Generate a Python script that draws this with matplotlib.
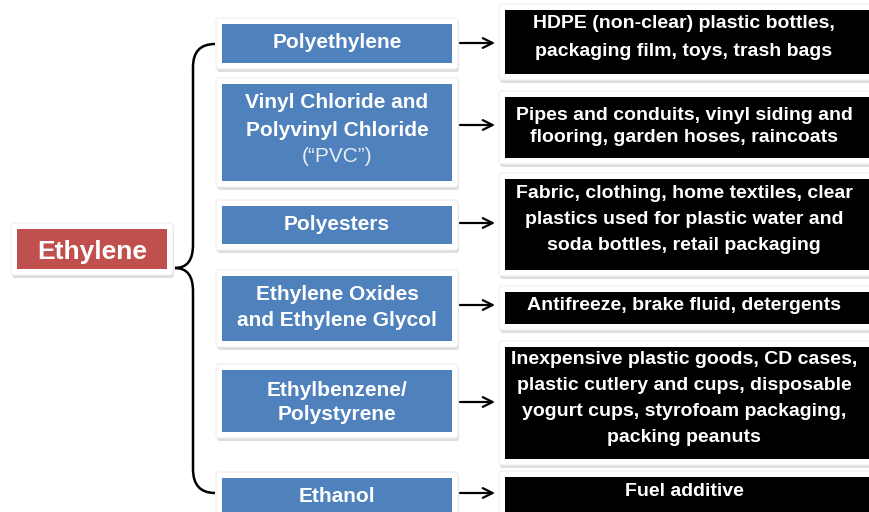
import matplotlib.pyplot as plt
import matplotlib.patches as mpatches
from matplotlib.path import Path

plt.rcParams['font.family'] = ['Liberation Sans', 'DejaVu Sans']

root = "Ethylene"
products = [["Polyethylene"],
            ["Vinyl Chloride and", "Polyvinyl Chloride"],
            ["Polyesters"],
            ["Ethylene Oxides", "and Ethylene Glycol"],
            ["Ethylbenzene/", "Polystyrene"],
            ["Ethanol"]]
product_notes = ["", "(\u201cPVC\u201d)", "", "", "", ""]
uses = [["HDPE (non-clear) plastic bottles,", "packaging film, toys, trash bags"],
        ["Pipes and conduits, vinyl siding and", "flooring, garden hoses, raincoats"],
        ["Fabric, clothing, home textiles, clear",
         "plastics used for plastic water and",
         "soda bottles, retail packaging"],
        ["Antifreeze, brake fluid, detergents"],
        ["Inexpensive plastic goods, CD cases,",
         "plastic cutlery and cups, disposable",
         "yogurt cups, styrofoam packaging,",
         "packing peanuts"],
        ["Fuel additive"]]

# layout in pixels (y down)
blue_y = [(24, 63), (84, 181), (206, 244), (276, 341), (370, 432), (478, 540)]
black_y = [(10, 74), (97, 158), (179, 270), (292, 324), (347, 459), (477, 540)]
blue_text_y = [41, [100, 128, 155], 222, [293, 318], [388, 412], 494]
black_text_y = [[22, 50], [113, 136], [192, 218, 244], [304], [358, 384, 410, 436], [490]]
arrow_y = [43, 125, 223, 305, 402, 493]
dy = 2  # text nudge

BLUE = '#4F81BD'
RED = '#C0504D'

fig = plt.figure(figsize=(8.69, 5.12), dpi=100)
ax = fig.add_axes([0, 0, 1, 1])
ax.set_xlim(0, 869)
ax.set_ylim(512, 0)
ax.axis('off')


def card(x0, x1, y0, y1, pad, color):
    # soft shadow, white card, coloured box
    ax.add_patch(mpatches.FancyBboxPatch((x0 - pad + 1, y0 - pad + 3), x1 - x0 + 2 * pad,
                                         y1 - y0 + 2 * pad, boxstyle='round,pad=0,rounding_size=3',
                                         fc='#c8c8c8', ec='none', alpha=0.6, zorder=1))
    ax.add_patch(mpatches.FancyBboxPatch((x0 - pad, y0 - pad), x1 - x0 + 2 * pad,
                                         y1 - y0 + 2 * pad, boxstyle='round,pad=0,rounding_size=3',
                                         fc='white', ec='#eeeeee', lw=0.8, zorder=2))
    ax.add_patch(mpatches.Rectangle((x0, y0), x1 - x0, y1 - y0, fc=color, ec='none', zorder=3))


# root box
card(17, 167, 229, 269, 6, RED)
ax.text(92, 250 + dy, root, color='white', fontsize=19, fontweight='bold',
        ha='center', va='center', zorder=4)

# brace
verts = [(215, 44), (193, 44), (193, 67),
         (193, 245),
         (193, 268), (175, 268),
         (193, 268), (193, 291),
         (193, 469),
         (193, 493), (215, 493)]
codes = [Path.MOVETO, Path.CURVE3, Path.CURVE3,
         Path.LINETO,
         Path.CURVE3, Path.CURVE3,
         Path.CURVE3, Path.CURVE3,
         Path.LINETO,
         Path.CURVE3, Path.CURVE3]
ax.add_patch(mpatches.PathPatch(Path(verts, codes), fc='none', ec='black', lw=1.8, zorder=4))

for i in range(len(products)):
    y0, y1 = blue_y[i]
    card(222, 452, y0, y1, 6, BLUE)
    ty = blue_text_y[i]
    ty = ty if isinstance(ty, list) else [ty]
    for k, line in enumerate(products[i]):
        ax.text(337, ty[k] + dy, line, color='white', fontsize=15, fontweight='bold',
                ha='center', va='center', zorder=5)
    if product_notes[i]:
        ax.text(337, ty[-1] + dy, product_notes[i], color='#e8eef7', fontsize=15,
                ha='center', va='center', zorder=5)

    b0, b1 = black_y[i]
    card(505, 880, b0, b1, 6, 'black')
    for k, line in enumerate(uses[i]):
        ax.text(684, black_text_y[i][k] + dy, line, color='white', fontsize=14, fontweight='bold',
                ha='center', va='center', zorder=5)

    ax.annotate('', xy=(495, arrow_y[i]), xytext=(460, arrow_y[i]),
                arrowprops=dict(arrowstyle='->,head_length=0.7,head_width=0.35', color='black',
                                lw=1.6, shrinkA=0, shrinkB=0), zorder=5)

fig.savefig('out.png', dpi=100)
